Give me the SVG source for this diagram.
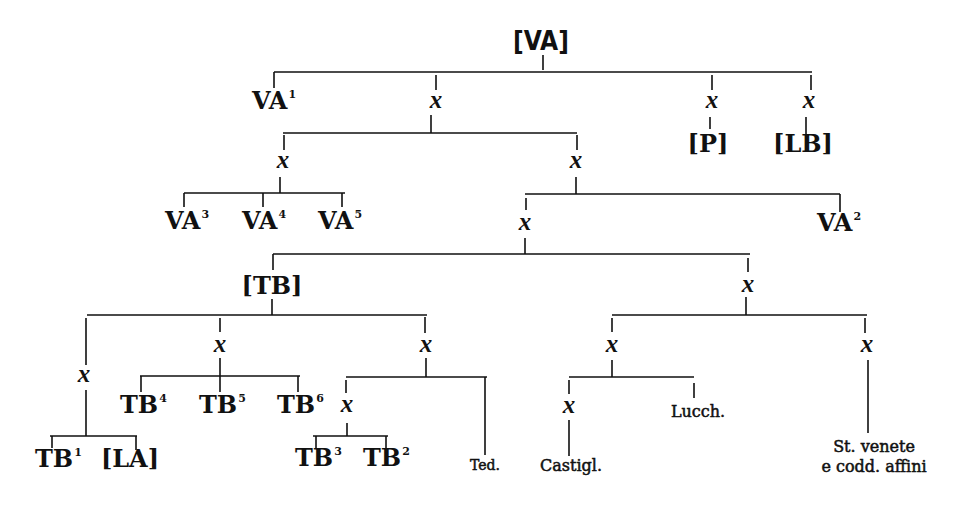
<svg xmlns="http://www.w3.org/2000/svg" width="971" height="505" viewBox="0 0 971 505">
<style>
.ln{stroke:#111;stroke-width:1.6;fill:none;stroke-linecap:butt}
.big{font-family:"DejaVu Serif","Liberation Serif",serif;font-weight:bold;font-size:24px;fill:#111}
.sup{font-size:11px}
.x{font-family:"Liberation Serif","DejaVu Serif",serif;font-style:italic;font-weight:bold;font-size:25px;fill:#111;text-anchor:middle}
.sm{font-family:"DejaVu Serif","Liberation Serif",serif;font-size:16px;fill:#111;stroke:#111;stroke-width:0.5;text-anchor:middle}
.top{font-family:"Liberation Sans Narrow","DejaVu Sans Condensed",sans-serif;font-stretch:condensed;font-weight:bold;font-size:26px;fill:#111;text-anchor:middle}
.mid{text-anchor:middle}
</style>
<rect width="971" height="505" fill="#fff"/>
<g id="connectors">
<path class="ln" d="M543 55V70 M274 72H812"/>
<path class="ln" d="M274 72V88 M436 75V90 M712 75V90 M811 75V90"/>
<path class="ln" d="M710 117V129 M806 117V136"/>
<path class="ln" d="M431 115V133 M283 133H577"/>
<path class="ln" d="M284 135V150 M577 135V150"/>
<path class="ln" d="M280 177V193 M184 193H345 M184 193V207 M263 193V207 M342 193V207"/>
<path class="ln" d="M576 177V194 M525 194H840 M840 194V212 M526 198V210"/>
<path class="ln" d="M525 238V254 M273 254H750 M273 254V270 M748 258V272"/>
<path class="ln" d="M272 299V315 M87 315H427 M86 318V365 M220 318V332 M425 317V333"/>
<path class="ln" d="M86 390V436 M50 436H137 M52 436V448 M136 436V450"/>
<path class="ln" d="M220 358V376 M140 376H300 M141 376V392 M220 376V392 M298 376V392"/>
<path class="ln" d="M426 358V377 M346 377H487 M346 380V393 M485 377V455"/>
<path class="ln" d="M347 423V436 M313 436H388 M316 436V448 M386 436V448"/>
<path class="ln" d="M746 297V315 M612 315H867 M612 318V332 M865 318V333"/>
<path class="ln" d="M612 360V377 M569 377H694 M569 380V394 M694 383V398 M569 420V456"/>
<path class="ln" d="M868 360V433"/>
</g>
<g id="n-VA"><text class="top" x="541" y="50">[VA]</text></g>
<g id="n-VA1"><text class="big" x="252" y="109">VA<tspan class="sup" dx="1" dy="-11">1</tspan></text></g>
<g id="n-x1"><text class="x" x="436" y="108">x</text></g>
<g id="n-xP"><text class="x" x="712" y="108">x</text></g>
<g id="n-P"><text class="big mid" x="708" y="152">[P]</text></g>
<g id="n-xLB"><text class="x" x="809" y="108">x</text></g>
<g id="n-LB"><text class="big mid" x="803" y="152">[LB]</text></g>
<g id="n-x2"><text class="x" x="283" y="168">x</text></g>
<g id="n-VA3"><text class="big" x="165" y="229">VA<tspan class="sup" dx="1" dy="-11">3</tspan></text></g>
<g id="n-VA4"><text class="big" x="242" y="229">VA<tspan class="sup" dx="1" dy="-11">4</tspan></text></g>
<g id="n-VA5"><text class="big" x="318" y="229">VA<tspan class="sup" dx="1" dy="-11">5</tspan></text></g>
<g id="n-x3"><text class="x" x="576" y="168">x</text></g>
<g id="n-VA2"><text class="big" x="817" y="231">VA<tspan class="sup" dx="1" dy="-11">2</tspan></text></g>
<g id="n-x4"><text class="x" x="525" y="230">x</text></g>
<g id="n-TB"><text class="big mid" x="272" y="294">[TB]</text></g>
<g id="n-x5"><text class="x" x="84" y="382">x</text></g>
<g id="n-TB1"><text class="big" x="35" y="467">TB<tspan class="sup" dx="1" dy="-11">1</tspan></text></g>
<g id="n-LA"><text class="big mid" x="130" y="467">[LA]</text></g>
<g id="n-x6"><text class="x" x="220" y="352">x</text></g>
<g id="n-TB4"><text class="big" x="120" y="413">TB<tspan class="sup" dx="1" dy="-11">4</tspan></text></g>
<g id="n-TB5"><text class="big" x="199" y="413">TB<tspan class="sup" dx="1" dy="-11">5</tspan></text></g>
<g id="n-TB6"><text class="big" x="277" y="413">TB<tspan class="sup" dx="1" dy="-11">6</tspan></text></g>
<g id="n-x7"><text class="x" x="426" y="352">x</text></g>
<g id="n-x8"><text class="x" x="347" y="412">x</text></g>
<g id="n-TB3"><text class="big" x="295" y="466">TB<tspan class="sup" dx="1" dy="-11">3</tspan></text></g>
<g id="n-TB2"><text class="big" x="363" y="466">TB<tspan class="sup" dx="1" dy="-11">2</tspan></text></g>
<g id="n-Ted"><text class="sm" x="485" y="470" style="font-size:14px">Ted.</text></g>
<g id="n-x9"><text class="x" x="748" y="292">x</text></g>
<g id="n-x10"><text class="x" x="612" y="352">x</text></g>
<g id="n-x11"><text class="x" x="569" y="413">x</text></g>
<g id="n-Castigl"><text class="sm" x="571" y="471">Castigl.</text></g>
<g id="n-Lucch"><text class="sm" x="698" y="417">Lucch.</text></g>
<g id="n-x12"><text class="x" x="867" y="352">x</text></g>
<g id="n-StVenete"><text class="sm" x="874" y="452">St. venete</text><text class="sm" x="874" y="472">e codd. affini</text></g>
</svg>
